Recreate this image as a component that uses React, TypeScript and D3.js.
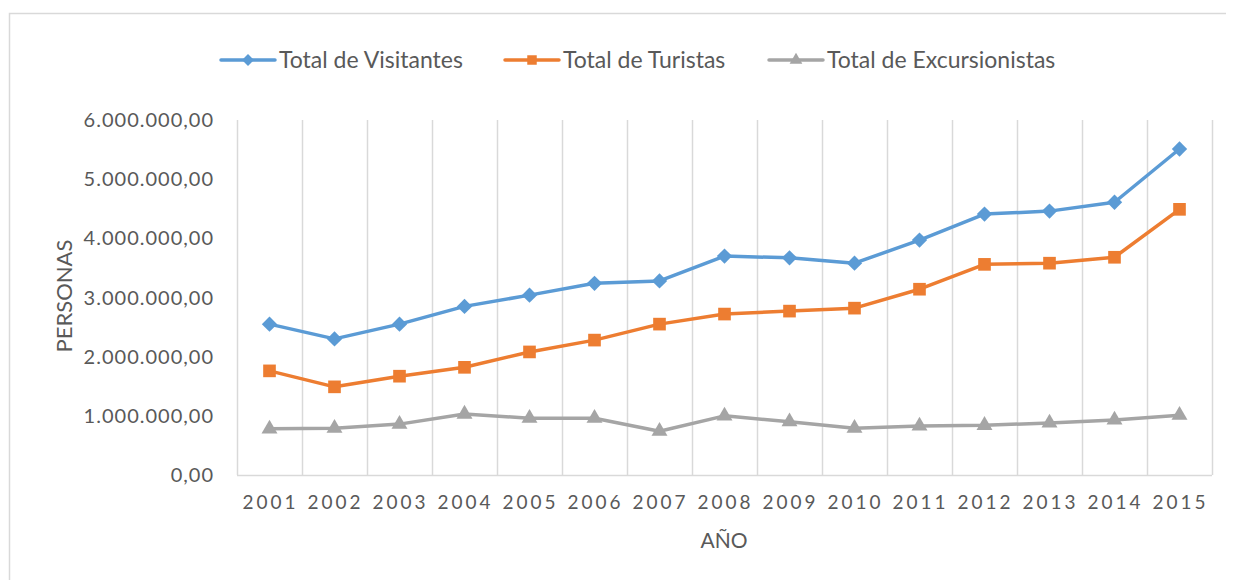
import React, { useEffect, useRef } from 'react';
import * as d3 from 'd3';

const years = ['2001', '2002', '2003', '2004', '2005', '2006', '2007', '2008', '2009', '2010', '2011', '2012', '2013', '2014', '2015'];
const visitantes = [2550000, 2300000, 2550000, 2850000, 3040000, 3240000, 3280000, 3700000, 3670000, 3580000, 3970000, 4410000, 4460000, 4610000, 5510000];
const turistas = [1760000, 1490000, 1670000, 1820000, 2080000, 2280000, 2550000, 2720000, 2770000, 2820000, 3140000, 3560000, 3580000, 3680000, 4490000];
const excursionistas = [780000, 790000, 860000, 1030000, 960000, 960000, 740000, 1000000, 900000, 790000, 830000, 840000, 880000, 930000, 1010000];
const yTicks = [0, 1000000, 2000000, 3000000, 4000000, 5000000, 6000000];

const series = [
  { name: 'Total de Visitantes', values: visitantes, color: '#5B9BD5', symbol: d3.symbolDiamond2 },
  { name: 'Total de Turistas', values: turistas, color: '#ED7D31', symbol: d3.symbolSquare },
  { name: 'Total de Excursionistas', values: excursionistas, color: '#A5A5A5', symbol: d3.symbolTriangle },
];

// es-ES style number: 6.000.000,00
const fmt = (v: number) => {
  const s = d3.format(',.2f')(v);
  return s.replace(/,/g, '#').replace('.', ',').replace(/#/g, '.');
};

export default function App() {
  const svgRef = useRef<SVGSVGElement>(null);

  useEffect(() => {
    if (!svgRef.current) return;
    const W = 1234, H = 584;
    const margin = { top: 120, right: 22, bottom: 109, left: 237 };
    const width = W - margin.left - margin.right;
    const height = H - margin.top - margin.bottom;
    const font = 'Lato, "Open Sans", sans-serif';

    d3.select(svgRef.current).selectAll('*').remove();
    const svg = d3.select(svgRef.current).attr('width', W).attr('height', H);

    // chart border (only left/top visible in the crop)
    svg.append('rect')
      .attr('x', 9.5).attr('y', 13.5)
      .attr('width', W + 20).attr('height', H + 20)
      .attr('fill', 'white').attr('stroke', '#D9D9D9').attr('stroke-width', 1.5);

    const g = svg.append('g').attr('transform', `translate(${margin.left},${margin.top})`);

    const x = d3.scaleBand().domain(years).range([0, width]);
    const y = d3.scaleLinear().domain([0, 6000000]).range([height, 0]);

    // vertical gridlines at category boundaries
    const bounds = years.map(d => x(d)!).concat([width]);
    g.selectAll('.grid')
      .data(bounds)
      .enter().append('line')
      .attr('x1', d => Math.round(d) + 0.5).attr('x2', d => Math.round(d) + 0.5)
      .attr('y1', 0).attr('y2', height)
      .attr('stroke', '#D9D9D9').attr('stroke-width', 1.5);

    // x axis line
    g.append('line')
      .attr('x1', 0).attr('x2', width)
      .attr('y1', height + 0.5).attr('y2', height + 0.5)
      .attr('stroke', '#D9D9D9').attr('stroke-width', 1.5);

    // y tick labels
    g.selectAll('.ytick')
      .data(yTicks)
      .enter().append('text')
      .attr('x', -23)
      .attr('y', d => y(d))
      .attr('dy', '0.35em')
      .attr('text-anchor', 'end')
      .attr('fill', '#595959')
      .style('font-family', font)
      .style('font-size', '20px')
      .style('letter-spacing', '1px')
      .text(d => fmt(d));

    // x tick labels
    g.selectAll('.xtick')
      .data(years)
      .enter().append('text')
      .attr('x', d => x(d)! + x.bandwidth() / 2 + 1)
      .attr('y', height + 34)
      .attr('text-anchor', 'middle')
      .attr('fill', '#595959')
      .style('font-family', font)
      .style('font-size', '19px')
      .style('letter-spacing', '3px')
      .text(d => d);

    // axis titles
    svg.append('text')
      .attr('x', 724).attr('y', 548)
      .attr('text-anchor', 'middle')
      .attr('fill', '#595959')
      .style('font-family', font)
      .style('font-size', '21px')
      .text('AÑO');

    svg.append('text')
      .attr('transform', 'translate(72,296) rotate(-90)')
      .attr('text-anchor', 'middle')
      .attr('fill', '#595959')
      .style('font-family', font)
      .style('font-size', '22px')
      .text('PERSONAS');

    // lines and markers
    const line = d3.line<number>()
      .x((_, i) => x(years[i])! + x.bandwidth() / 2)
      .y(d => y(d));

    series.forEach(s => {
      g.append('path')
        .datum(s.values)
        .attr('fill', 'none')
        .attr('stroke', s.color)
        .attr('stroke-width', 3.5)
        .attr('stroke-linejoin', 'round')
        .attr('d', line);

      g.selectAll(null)
        .data(s.values)
        .enter().append('path')
        .attr('transform', (d, i) => `translate(${x(years[i])! + x.bandwidth() / 2},${y(d)})`)
        .attr('d', d3.symbol(s.symbol, s.symbol === d3.symbolDiamond2 ? 150 : s.symbol === d3.symbolSquare ? 160 : 110)())
        .attr('fill', s.color);
    });

    // legend
    const legendX = [221, 505, 769];
    series.forEach((s, i) => {
      const lg = svg.append('g').attr('transform', `translate(${legendX[i]},60)`);
      lg.append('line')
        .attr('x1', 0).attr('x2', 54)
        .attr('stroke', s.color).attr('stroke-width', 3.5)
        .attr('stroke-linecap', 'round');
      lg.append('path')
        .attr('transform', 'translate(27,0)')
        .attr('d', d3.symbol(s.symbol, s.symbol === d3.symbolTriangle ? 70 : 90)())
        .attr('fill', s.color);
      lg.append('text')
        .attr('x', 58).attr('dy', '0.35em')
        .attr('fill', '#595959')
        .style('font-family', font)
        .style('font-size', '23px')
        .text(s.name);
    });
  }, []);

  return (
    <div style={{ margin: -8 }}>
      <svg ref={svgRef}></svg>
    </div>
  );
}
